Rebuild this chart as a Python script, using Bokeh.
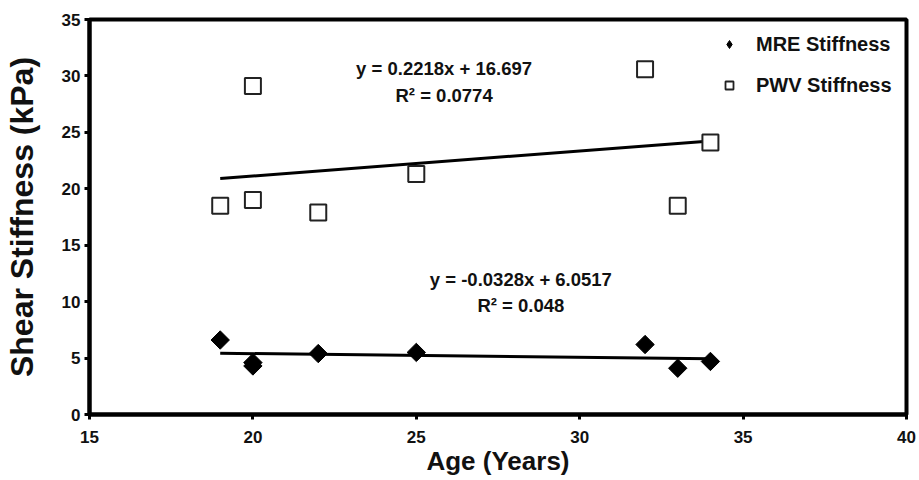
from bokeh.plotting import figure
from bokeh.models import Range1d, Label, Legend, LegendItem, FixedTicker
from bokeh.embed import file_html
from bokeh.resources import INLINE
import numpy as np

# ---- data ----
age = [19, 20, 20, 22, 25, 32, 33, 34]
mre_stiffness = [6.6, 4.6, 4.3, 5.4, 5.5, 6.2, 4.1, 4.7]
pwv_age = [19, 20, 20, 22, 25, 32, 33, 34]
pwv_stiffness = [18.5, 19.0, 29.1, 17.9, 21.3, 30.6, 18.5, 24.1]

mre_fit = {"slope": -0.0328, "intercept": 6.0517, "r2": 0.048}
pwv_fit = {"slope": 0.2218, "intercept": 16.697, "r2": 0.0774}

x_ticks = [15, 20, 25, 30, 35, 40]
y_ticks = [0, 5, 10, 15, 20, 25, 30, 35]

FONT = "Liberation Sans"
INK = "#111111"

p = figure(width=916, height=478, output_backend="svg", toolbar_location=None,
           x_range=Range1d(15, 40), y_range=Range1d(0, 35),
           min_border_left=89, min_border_right=10, min_border_top=19, min_border_bottom=64)

p.xgrid.visible = False
p.ygrid.visible = False
p.outline_line_color = "black"
p.outline_line_width = 4

for ax in (p.xaxis[0], p.yaxis[0]):
    ax.axis_line_width = 4
    ax.axis_line_color = "black"
    ax.major_tick_line_width = 3
    ax.major_tick_line_color = "black"
    ax.major_tick_out = 5
    ax.major_tick_in = 0
    ax.minor_tick_line_color = None
    ax.major_label_text_font = FONT
    ax.major_label_text_font_style = "bold"
    ax.major_label_text_font_size = "17px"
    ax.major_label_text_color = INK
    ax.axis_label_text_font = FONT
    ax.axis_label_text_font_style = "bold"
    ax.axis_label_text_color = INK

p.xaxis.ticker = FixedTicker(ticks=x_ticks)
p.yaxis.ticker = FixedTicker(ticks=y_ticks)
p.xaxis.axis_label = "Age (Years)"
p.yaxis.axis_label = "Shear Stiffness (kPa)"
p.xaxis.axis_label_text_font_size = "26px"
p.yaxis.axis_label_text_font_size = "32px"
p.xaxis.major_label_standoff = 11
p.xaxis.axis_label_standoff = 0
p.yaxis.major_label_standoff = 4
p.yaxis.axis_label_standoff = 19

# trend lines from the displayed regression equations
def fit_line(xs, fit):
    x0, x1 = min(xs), max(xs)
    return [x0, x1], [fit["slope"] * x0 + fit["intercept"], fit["slope"] * x1 + fit["intercept"]]

lx, ly = fit_line(pwv_age, pwv_fit)
p.line(lx, ly, line_color="black", line_width=3)
lx, ly = fit_line(age, mre_fit)
p.line(lx, ly, line_color="black", line_width=3)

p.scatter(pwv_age, pwv_stiffness, marker="square", size=16, fill_color="white",
          line_color="#222222", line_width=2)
p.scatter(age, mre_stiffness, marker="square", angle=np.pi / 4, size=13,
          fill_color="black", line_color="black")

# legend-only renderers with smaller glyphs
leg_mre = p.scatter([np.nan], [np.nan], marker="diamond", size=13,
                    fill_color="black", line_color="black")
leg_pwv = p.scatter([np.nan], [np.nan], marker="square", size=9, fill_color="white",
                    line_color="#222222", line_width=1.8)

legend = Legend(items=[LegendItem(label="MRE Stiffness", renderers=[leg_mre]),
                       LegendItem(label="PWV Stiffness", renderers=[leg_pwv])],
                location=(630, 317), border_line_color=None, background_fill_alpha=0,
                label_text_font=FONT, label_text_font_style="bold",
                label_text_font_size="20px", label_text_color=INK,
                glyph_width=20, glyph_height=24, label_standoff=17, spacing=17,
                margin=0, padding=10)
p.add_layout(legend)

def eq_text(fit):
    sign = "+" if fit["intercept"] >= 0 else "-"
    return f"y = {fit['slope']:.4f}x {sign} {abs(fit['intercept']):g}"

for fit, ex, ey1, ey2 in [(pwv_fit, 25.85, 30.7, 28.3), (mre_fit, 28.2, 12.0, 9.7)]:
    p.add_layout(Label(x=ex, y=ey1, text=eq_text(fit), text_align="center", text_baseline="middle",
                       text_font=FONT, text_font_style="bold", text_font_size="18.5px",
                       text_color=INK))
    p.add_layout(Label(x=ex, y=ey2, text=f"R² = {fit['r2']:g}", text_align="center",
                       text_baseline="middle", text_font=FONT, text_font_style="bold",
                       text_font_size="18.5px", text_color=INK))

open("out.html", "w").write(file_html(p, INLINE))
